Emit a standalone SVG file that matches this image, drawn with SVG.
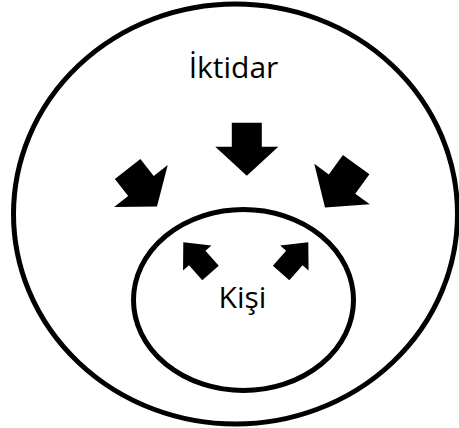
<svg xmlns="http://www.w3.org/2000/svg" width="459" height="428" viewBox="0 0 459 428">
<style>
.ring{fill:none;stroke:#000;stroke-width:5}
.lbl{font-family:"Open Sans","Noto Sans",sans-serif;font-size:30px;fill:#000;text-anchor:middle}
.arr{fill:#000;stroke:none}
</style>
<defs>
<path id="bigArrow" d="M0,0 L-29,-31.5 L-29,-15 L-53,-15 L-53,15 L-29,15 L-29,31.5 Z"/>
<path id="smallArrow" d="M0,0 L-21,-19 L-21,-11 L-41,-11 L-41,11 L-21,11 L-21,19 Z"/>
</defs>
<g id="iktidar">
<ellipse class="ring" cx="235.5" cy="214" rx="222" ry="210"/>
<text class="lbl" x="233.5" y="78">İktidar</text>
</g>
<g id="kisi">
<ellipse class="ring" cx="243.5" cy="300" rx="110" ry="90.5"/>
<text class="lbl" x="242.5" y="308">Kişi</text>
</g>
<g id="connectors">
<use href="#bigArrow" class="arr" transform="translate(246.8,175.7) rotate(90)"/>
<use href="#bigArrow" class="arr" transform="translate(157,206.5) rotate(52) scale(0.9,1.08)"/>
<use href="#bigArrow" class="arr" transform="translate(325,207.5) rotate(126) scale(1,1.09)"/>
<use href="#smallArrow" class="arr" transform="translate(183.3,242.3) rotate(228.4)"/>
<use href="#smallArrow" class="arr" transform="translate(308.3,242.3) rotate(311.6)"/>
</g>
</svg>
